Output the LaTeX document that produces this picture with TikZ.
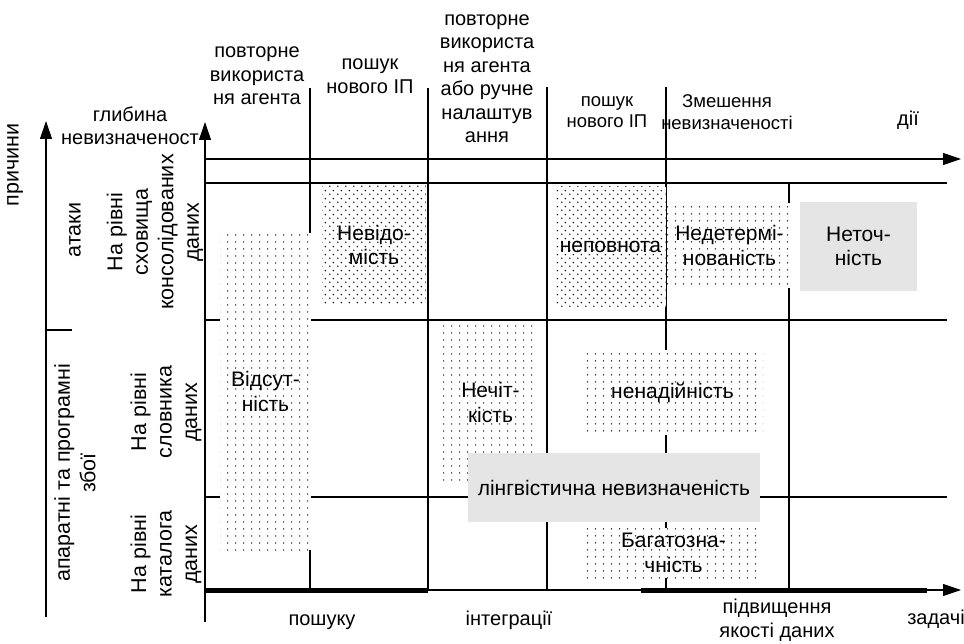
\documentclass[tikz,border=0pt]{standalone}
\usepackage{fontspec}
\setmainfont{Liberation Sans}
\usetikzlibrary{arrows.meta,patterns}
\colorlet{dtx}{black!90}
\colorlet{shx}{gray!20}

\pgfdeclarepatternformonly{sparsedots}{\pgfpointorigin}{\pgfpoint{8pt}{7pt}}{\pgfpoint{8pt}{7pt}}{%
  \pgfpathcircle{\pgfpoint{4pt}{3.5pt}}{0.85pt}\pgfusepath{fill}}
\pgfdeclarepatternformonly{densedots}{\pgfpointorigin}{\pgfpoint{8pt}{8pt}}{\pgfpoint{8pt}{8pt}}{%
  \pgfpathcircle{\pgfpoint{2pt}{2pt}}{0.85pt}\pgfpathcircle{\pgfpoint{6pt}{6pt}}{0.85pt}\pgfusepath{fill}}

\tikzset{
  sparse/.style={fill=white,postaction={pattern=sparsedots,pattern color=dtx},inner sep=0pt,align=center,font=\fontsize{21}{24.5}\selectfont},
  dense/.style={fill=white,postaction={pattern=densedots,pattern color=dtx},inner sep=0pt,align=center,font=\fontsize{21}{24.5}\selectfont},
  shade box/.style={fill=shx,inner sep=0pt,align=center,font=\fontsize{21}{24.5}\selectfont},
  lbl/.style={align=center,inner sep=0pt},
  side/.style={lbl,rotate=90,font=\fontsize{21.5}{25.5}\selectfont},
  ax/.style={-{Triangle[length=18pt,width=12pt]}},
}

\begin{document}
\begin{tikzpicture}[x=1pt,y=-1pt,line width=1.1pt]
        \fontsize{20}{23.5}\selectfont
        \useasboundingbox (0,0) rectangle (964,644);

        \draw [ax] (205,622) -- (205,122);
        \draw [ax] (46,617) -- (46,121);
        \draw (46,330) -- (72,330);
        \draw [ax] (205,159) -- (961,159);
        \draw
            (205,183) -- (947,183)
            (205,320) -- (947,320)
            (205,497) -- (947,497)
        ;
        \foreach \x/\y in {310/88,428/88,547/87,666/87,789/183}
            \draw (\x,\y) -- (\x,590);
        \draw [ax] (205,590) -- (961,590);
        \draw [line width=5pt] (205,590) -- (428,590) (641,590) -- (927,590);

        \node [sparse,minimum width=91pt,minimum height=317pt] (vidsut) at (265.5,391.5) {Відсут-\\ність};
        \node [dense,minimum width=104pt,minimum height=118pt] (nevidom) at (374,245) {Невідо-\\мість};
        \node [dense,minimum width=110pt,minimum height=120pt] (nepovn) at (610.5,247) {неповнота};
        \node [sparse,minimum width=125pt,minimum height=85pt] (nedeterm) at (729.5,245.5) {Недетермі-\\нованість};
        \node [shade box,minimum width=117pt,minimum height=89pt] (netoch) at (858.5,246.5) {Неточ-\\ність};
        \node [sparse,minimum width=95pt,minimum height=161pt] (nechit) at (490.5,402.5) {Нечіт-\\кість};
        \node [sparse,minimum width=181pt,minimum height=85pt] (nenad) at (672.5,392.5) {ненадійність};
        \node [shade box,minimum width=292pt,minimum height=69pt] (lingv) at (614,487.5) {лінгвістична невизначеність};
        \node [sparse,minimum width=177pt,minimum height=50pt] (bagat) at (673.5,553) {Багатозна-\\чність};

        \node [lbl] (h1) at (257,76) {повторне\\використа\\ня агента};
        \node [lbl] (h2) at (370,76) {пошук\\нового ІП};
        \node [lbl] (h3) at (487,78.5) {повторне\\використа\\ня агента\\або ручне\\налаштув\\ання};
        \node [lbl,font=\fontsize{18.5}{21.5}\selectfont] (h4) at (607,112) {пошук\\нового ІП};
        \node [lbl,font=\fontsize{18.5}{21.5}\selectfont] (h5) at (727,112) {Змешення\\невизначеності};
        \node [lbl] (dii) at (908,120) {дії};
        \node [lbl] (glyb) at (130,126) {глибина\\невизначеност};

        \node [side] (prych) at (15,165) {причини};
        \node [side] (ataky) at (75,230) {атаки};
        \node [side] (zboi) at (75,473) {апаратні та програмні\\збої};
        \node [side] (riv1) at (155,232) {На рівні\\сховища\\консолідованих\\даних};
        \node [side] (riv2) at (166,412) {На рівні\\словника\\даних};
        \node [side] (riv3) at (166,554) {На рівні\\каталога\\даних};

        \node [lbl,anchor=base] (poshuku) at (322,625) {пошуку};
        \node [lbl,anchor=base] (integr) at (509,625) {інтеграції};
        \node [lbl,anchor=base] (pidv) at (777,637) {підвищення\\якості даних};
        \node [lbl,anchor=base] (zadachi) at (936,624) {задачі};
\end{tikzpicture}
\end{document}
